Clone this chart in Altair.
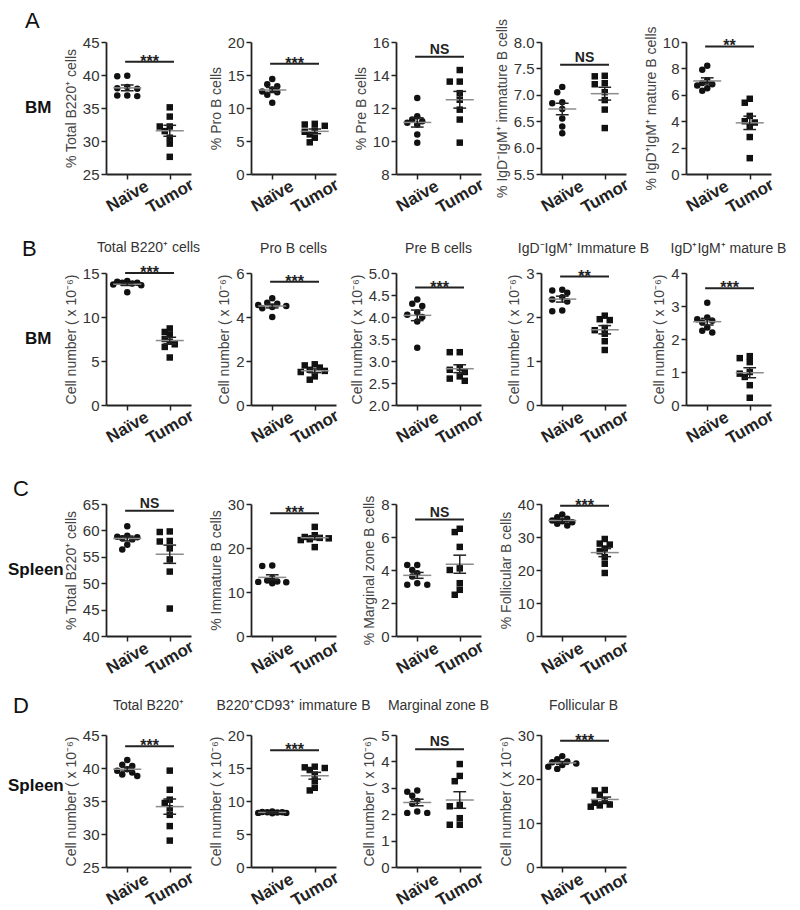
import altair as alt
import pandas as pd

FONT = "Liberation Sans, Arial, sans-serif"
GROUPS = ["Naïve", "Tumor"]

# ---------------- data ----------------
# Row A : BM, percentages
A1_N = [39.9, 39.8, 38.2, 38.0, 37.9, 36.9, 36.8, 36.9]
A1_T = [35.1, 33.7, 32.2, 32.2, 31.5, 30.5, 29.6, 27.6]
A2_N = [14.4, 13.6, 13.3, 12.8, 12.5, 12.4, 12.0, 10.8]
A2_T = [7.6, 7.5, 7.3, 6.6, 6.4, 6.0, 5.5, 4.8]
A3_N = [12.6, 11.5, 11.3, 11.2, 11.1, 11.0, 10.4, 9.9]
A3_T = [14.3, 13.6, 13.6, 12.9, 12.5, 11.9, 11.3, 9.9]
A4_N = [7.15, 7.05, 6.86, 6.84, 6.73, 6.55, 6.40, 6.27]
A4_T = [7.36, 7.35, 7.22, 7.20, 7.05, 6.90, 6.72, 6.37]
A5_N = [8.2, 7.9, 7.1, 6.9, 6.8, 6.7, 6.5, 6.3]
A5_T = [5.7, 5.4, 4.4, 4.0, 3.9, 3.6, 2.8, 1.2]
# Row B : BM, cell numbers
B1_N = [14.1, 14.0, 13.9, 13.9, 13.8, 13.7, 13.6, 12.8]
B1_T = [8.7, 8.3, 8.0, 7.5, 7.2, 6.9, 6.6, 5.4]
B2_N = [4.85, 4.65, 4.6, 4.55, 4.5, 4.45, 4.4, 4.0]
B2_T = [1.85, 1.8, 1.7, 1.6, 1.55, 1.5, 1.3, 1.15]
B3_N = [4.4, 4.3, 4.25, 4.1, 4.05, 4.0, 3.9, 3.3]
B3_T = [3.2, 3.2, 2.85, 2.8, 2.75, 2.65, 2.6, 2.55]
B4_N = [2.62, 2.6, 2.55, 2.45, 2.4, 2.35, 2.15, 2.13]
B4_T = [2.03, 1.95, 1.93, 1.75, 1.7, 1.62, 1.45, 1.25]
B5_N = [3.1, 2.65, 2.6, 2.55, 2.5, 2.35, 2.25, 2.2]
B5_T = [1.48, 1.42, 1.3, 1.0, 0.95, 0.85, 0.6, 0.22]
# Row C : Spleen, percentages
C1_N = [60.8, 59.0, 58.8, 58.7, 58.5, 58.3, 57.3, 56.4]
C1_T = [59.8, 59.7, 58.0, 57.9, 56.6, 54.5, 52.2, 45.2]
C2_N = [16.0, 15.9, 13.2, 12.6, 12.4, 12.3, 12.2, 12.0]
C2_T = [24.8, 22.9, 22.5, 22.3, 22.2, 22.0, 21.8, 20.2]
C3_N = [4.3, 4.3, 4.0, 3.8, 3.6, 3.2, 3.1, 3.1]
C3_T = [6.5, 6.3, 5.4, 4.1, 4.0, 3.2, 2.8, 2.5]
C4_N = [36.8, 36.0, 35.5, 35.0, 34.8, 34.5, 34.0, 33.5]
C4_T = [29.4, 28.0, 27.7, 26.5, 25.7, 23.9, 21.9, 19.1]
# Row D : Spleen, cell numbers
D1_N = [41.2, 40.5, 40.3, 39.8, 39.6, 39.3, 39.0, 38.8]
D1_T = [39.6, 36.7, 35.2, 34.7, 33.9, 32.9, 31.2, 29.0]
D2_N = [8.4, 8.35, 8.3, 8.3, 8.25, 8.2, 8.2, 8.15]
D2_T = [15.2, 15.1, 15.0, 14.7, 14.0, 13.0, 12.0, 11.6]
D3_N = [2.9, 2.85, 2.7, 2.5, 2.4, 2.1, 2.05, 2.05]
D3_T = [3.9, 3.45, 3.25, 2.35, 2.3, 1.85, 1.6, 1.6]
D4_N = [25.2, 24.5, 24.0, 23.8, 23.5, 23.2, 22.8, 22.3]
D4_T = [17.5, 17.4, 16.4, 15.0, 14.6, 14.2, 14.0, 13.7]

# significance labels and bar heights (data units)
SIG_A = ["***", "***", "NS", "NS", "**"]
SIG_A_Y = [42.0, 16.7, 15.1, 7.57, 9.66]
SIG_B = ["***", "***", "***", "**", "***"]
SIG_B_Y = [15.0, 5.6, 4.67, 2.92, 3.54]
SIG_C = ["NS", "***", "NS", "***"]
SIG_C_Y = [63.7, 27.9, 7.06, 39.5]
SIG_D = ["***", "***", "NS", "***"]
SIG_D_Y = [43.3, 17.7, 4.46, 28.7]

# axis ranges / ticks
DOM_A = [[25, 45], [0, 20], [8, 16], [5.5, 8.0], [0, 10]]
TICK_A = [[25, 30, 35, 40, 45], [0, 5, 10, 15, 20], [8, 10, 12, 14, 16],
          [5.5, 6.0, 6.5, 7.0, 7.5, 8.0], [0, 2, 4, 6, 8, 10]]
DOM_B = [[0, 15], [0, 6], [2.0, 5.0], [0, 3], [0, 4]]
TICK_B = [[0, 5, 10, 15], [0, 2, 4, 6], [2.0, 2.5, 3.0, 3.5, 4.0, 4.5, 5.0],
          [0, 1, 2, 3], [0, 1, 2, 3, 4]]
DOM_C = [[40, 65], [0, 30], [0, 8], [0, 40]]
TICK_C = [[40, 45, 50, 55, 60, 65], [0, 10, 20, 30], [0, 2, 4, 6, 8], [0, 10, 20, 30, 40]]
DOM_D = [[25, 45], [0, 20], [0, 5], [0, 30]]
TICK_D = [[25, 30, 35, 40, 45], [0, 5, 10, 15, 20], [0, 1, 2, 3, 4, 5], [0, 10, 20, 30]]
FMT_A = [None, None, None, ".1f", None]
FMT_B = [None, None, ".1f", None, None]

YT_A = ["% Total B220⁺ cells", "% Pro B cells", "% Pre B cells",
        "% IgD⁻IgM⁺ immature B cells", "% IgD⁺IgM⁺ mature B cells"]
YT_C = ["% Total B220⁺ cells", "% Immature B cells", "% Marginal zone B cells",
        "% Follicular B cells"]
YT_NUM = "Cell number ( x 10⁻⁶)"
TITLE_B = ["Total B220⁺ cells", "Pro B cells", "Pre B cells",
           "IgD⁻IgM⁺ Immature B", "IgD⁺IgM⁺ mature B"]
TITLE_D = ["Total B220⁺", "B220⁺CD93⁺ immature B", "Marginal zone B", "Follicular B"]

# ---------------- layout ----------------
W = 85
H = 132
COL_SP = 60
ROW_SP = 99


def swarm(values, ydom):
    """horizontal offsets so that overlapping points sit side by side"""
    ppu_y = H / (ydom[1] - ydom[0])
    ppu_x = W / 2.0
    placed, offs = [], []
    cands = [0, -5, 5, -10, 10, -14, 14]
    for v in values:
        ypx = v * ppu_y
        best, best_d = 0, -1
        for c in cands:
            d = min([((c - px) ** 2 + (ypx - py) ** 2) ** 0.5 for px, py in placed] or [99])
            if d >= 5.5:
                best = c
                break
            if d > best_d:
                best, best_d = c, d
        placed.append((best, ypx))
        offs.append(best / ppu_x)
    return offs


def panel(naive, tumor, ydom, yticks, ytitle, sig_label, sig_y, title=None, fmt=None,
          toff=10):
    rows = []
    for g, vals in ((1, naive), (2, tumor)):
        order = sorted(vals, reverse=True)
        for v, o in zip(order, swarm(order, ydom)):
            rows.append({"g": g, "grp": GROUPS[g - 1], "v": v, "x": g + o})
    df = pd.DataFrame(rows)

    xs = alt.Scale(domain=[0.5, 2.5], nice=False, zero=False)
    ys = alt.Scale(domain=ydom, nice=False, zero=False)
    xax = alt.Axis(values=[1, 2], labelExpr="datum.value == 1 ? 'Naïve' : 'Tumor'",
                   title=None, labelAngle=-30, labelAlign="center", labelBaseline="middle",
                   labelPadding=17, labelFontWeight="bold", labelFontSize=17,
                   labelColor="#222", labelOverlap=False, labelFlush=False, grid=False)
    yk = dict(values=yticks, title=ytitle, grid=False)
    if fmt:
        yk["format"] = fmt
    yax = alt.Axis(**yk)

    def X(f):
        return alt.X(f"{f}:Q", scale=xs, axis=xax)

    def Y(f):
        return alt.Y(f"{f}:Q", scale=ys, axis=yax)

    base = alt.Chart(df)
    pts = base.mark_point(filled=True, size=42, opacity=1, color="#111").encode(
        x=X("x"), y=Y("v"),
        shape=alt.Shape("grp:N", scale=alt.Scale(domain=GROUPS, range=["circle", "square"]),
                        legend=None))
    stats = base.transform_aggregate(
        m="mean(v)", se="stderr(v)", groupby=["g"]
    ).transform_calculate(
        lo="datum.m - datum.se", hi="datum.m + datum.se",
        ml="datum.g - 0.33", mr="datum.g + 0.33",
        cl="datum.g - 0.15", cr="datum.g + 0.15")
    mean = stats.mark_rule(color="#8c8c8c", strokeWidth=1.5).encode(
        x=X("ml"), x2=alt.X2("mr"), y=Y("m"))
    sem = stats.mark_rule(color="#222", strokeWidth=1.5).encode(
        x=X("g"), y=Y("lo"), y2=alt.Y2("hi"))
    caps = stats.transform_fold(["lo", "hi"], as_=["which", "cv"]).mark_rule(
        color="#222", strokeWidth=1.5).encode(x=X("cl"), x2=alt.X2("cr"), y=Y("cv"))

    sig_df = pd.DataFrame({"x1": [0.95], "x2": [2.1], "xm": [1.525],
                           "y": [sig_y], "t": [sig_label]})
    bar = alt.Chart(sig_df).mark_rule(color="#222", strokeWidth=2).encode(
        x=X("x1"), x2=alt.X2("x2"), y=Y("y"))
    if sig_label == "NS":
        txt_mark = dict(fontSize=14, dy=-3)
    else:
        txt_mark = dict(fontSize=16, dy=5)
    txt = alt.Chart(sig_df).mark_text(font=FONT, fontWeight="bold", baseline="alphabetic",
                                      color="#222", **txt_mark).encode(
        x=X("xm"), y=Y("y"), text="t:N")

    ch = alt.layer(pts, mean, sem, caps, bar, txt).properties(width=W, height=H)
    if title:
        ch = ch.properties(title=alt.TitleParams(
            text=title, fontSize=14, fontWeight="normal", color="#333", font=FONT,
            offset=toff, frame="group", anchor="middle"))
    return ch


def label_chart(letter, ly, name, ny, width, lx=17, nx=17, nsize=17):
    d = pd.DataFrame({"a": [0]})
    base = alt.Chart(d)
    l1 = base.mark_text(font=FONT, fontSize=22, align="left", baseline="middle",
                        color="#111").encode(x=alt.value(lx), y=alt.value(ly),
                                             text=alt.value(letter))
    l2 = base.mark_text(font=FONT, fontSize=nsize, fontWeight="bold", align="left",
                        baseline="middle", color="#111").encode(
        x=alt.value(nx), y=alt.value(ny), text=alt.value(name))
    return alt.layer(l1, l2).properties(width=width, height=H)


def filler():
    d = pd.DataFrame({"a": [0]})
    return alt.Chart(d).mark_point(opacity=0).encode(
        x=alt.value(0), y=alt.value(0)).properties(width=1, height=H)


items = []
# Row A
items.append(label_chart("A", -21, "BM", H / 2, 37))
for i in range(5):
    items.append(panel([A1_N, A2_N, A3_N, A4_N, A5_N][i], [A1_T, A2_T, A3_T, A4_T, A5_T][i],
                       DOM_A[i], TICK_A[i], YT_A[i], SIG_A[i], SIG_A_Y[i], fmt=FMT_A[i]))
# Row B
items.append(label_chart("B", -24, "BM", H / 2, 34, lx=14))
for i in range(5):
    items.append(panel([B1_N, B2_N, B3_N, B4_N, B5_N][i], [B1_T, B2_T, B3_T, B4_T, B5_T][i],
                       DOM_B[i], TICK_B[i], YT_NUM, SIG_B[i], SIG_B_Y[i],
                       title=TITLE_B[i], fmt=FMT_B[i], toff=10))
# Row C
items.append(label_chart("C", -15, "Spleen", H / 2, 38, lx=5, nx=0, nsize=17))
for i in range(4):
    items.append(panel([C1_N, C2_N, C3_N, C4_N][i], [C1_T, C2_T, C3_T, C4_T][i],
                       DOM_C[i], TICK_C[i], YT_C[i], SIG_C[i], SIG_C_Y[i]))
items.append(filler())
# Row D
items.append(label_chart("D", -29, "Spleen", H / 2 - 15, 38, lx=5, nx=0, nsize=17))
for i in range(4):
    items.append(panel([D1_N, D2_N, D3_N, D4_N][i], [D1_T, D2_T, D3_T, D4_T][i],
                       DOM_D[i], TICK_D[i], YT_NUM, SIG_D[i], SIG_D_Y[i],
                       title=TITLE_D[i], toff=15))
items.append(filler())

chart = alt.concat(
    *items, columns=6, spacing={"row": ROW_SP, "column": COL_SP},
    bounds="flush", align="none"
).properties(padding={"top": 2, "left": 0, "right": 0, "bottom": 0}).configure(
    font=FONT).configure_view(stroke=None).configure_axis(
    domainColor="#222", domainWidth=1.8, tickColor="#222", tickWidth=1.5, tickSize=5,
    labelFont=FONT, labelFontSize=15, labelColor="#333", labelPadding=2,
    titleFont=FONT, titleFontSize=14, titleFontWeight="normal", titleColor="#444",
    titlePadding=4, grid=False)

chart.save("out.html", embed_options={"renderer": "svg", "actions": False})
